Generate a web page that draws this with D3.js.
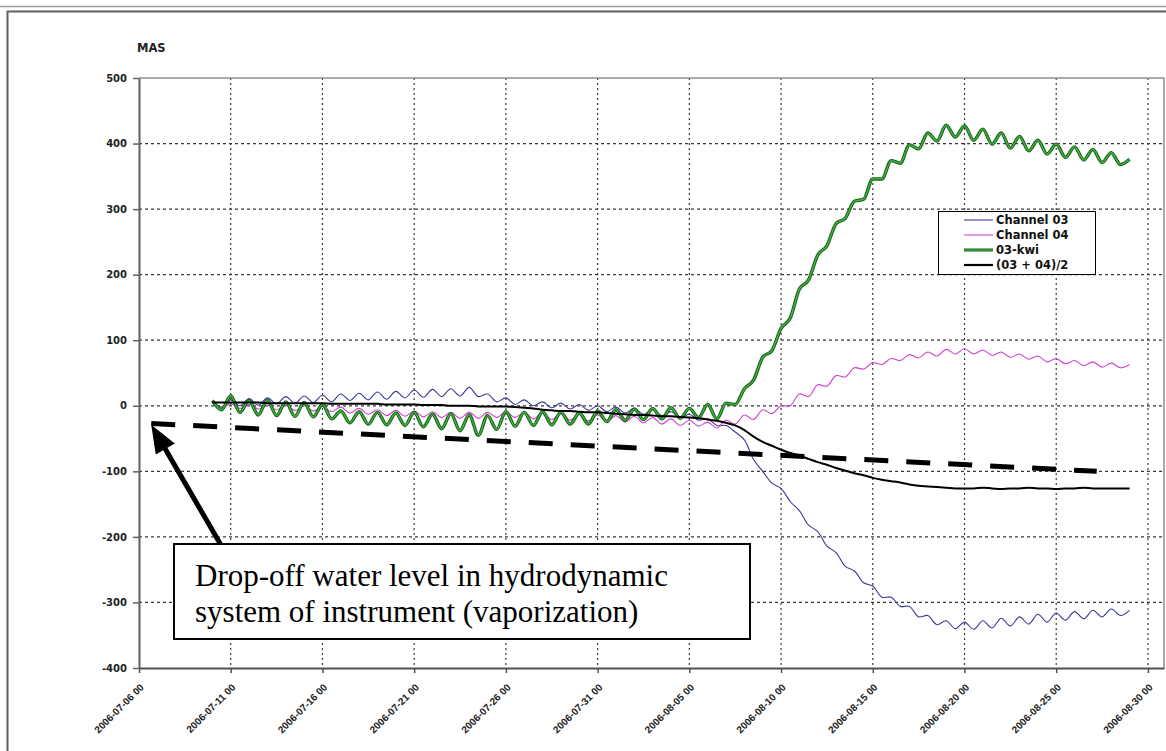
<!DOCTYPE html>
<html><head><meta charset="utf-8">
<script src="https://cdn.jsdelivr.net/npm/d3@7"></script>
<style>body{margin:0;background:#fff;overflow:hidden}</style>
</head><body>
<svg id="chart" width="1166" height="751"></svg>
<script>
// ---------- DATA ----------
const startTime = "2006-07-10 00:00";   // first sample
const stepHours = 12;                    // sampling step
const seriesNames = ["Channel 03", "Channel 04", "03-kwi", "(03 + 04)/2"];
const channel03 = [6,-2,9,0,11,1,12,3,14,4,15,5,16,6,18,8,19,9,21,10,22,12,24,13,25,14,26,15,28,14,18,6,12,2,9,0,6,-3,4,-5,2,-7,0,-9,-2,-11,-4,-13,-6,-15,-9,-18,-13,-22,-20,-30,-30,-40,-52,-82,-100,-118,-126,-146,-160,-182,-192,-214,-224,-245,-252,-270,-275,-292,-292,-306,-306,-322,-320,-334,-328,-340,-330,-341,-328,-339,-324,-336,-322,-333,-318,-330,-316,-327,-314,-325,-312,-322,-310,-320,-312];
const channel04 = [4,-3,3,-4,2,-5,1,-6,1,-7,0,-8,-1,-9,-2,-11,-4,-13,-6,-15,-7,-16,-8,-17,-9,-18,-10,-19,-10,-19,-10,-18,-9,-18,-10,-20,-11,-21,-12,-22,-13,-23,-14,-24,-15,-25,-16,-26,-18,-28,-20,-30,-22,-31,-25,-34,-22,-28,-14,-21,-6,-12,0,0,18,14,32,30,46,44,58,56,66,63,72,69,78,73,82,76,86,79,87,79,85,77,82,74,79,71,76,67,72,64,69,61,67,59,65,58,63];
const kwi03 = [8,-6,15,-10,8,-14,9,-15,6,-16,5,-17,2,-20,-8,-26,-9,-28,-10,-29,-11,-30,-10,-32,-13,-35,-12,-38,-14,-45,-15,-36,-9,-31,-10,-30,-9,-29,-10,-28,-11,-28,-8,-24,-6,-22,-5,-21,-4,-20,-3,-19,-4,-18,2,-20,4,2,26,39,74,84,118,134,178,192,230,244,278,286,312,315,346,346,374,370,398,392,416,404,428,410,427,405,422,399,416,393,411,389,405,384,399,379,395,375,391,371,386,368,376];
const average03_04 = [5,5,5,5,5,5,4,4,4,4,4,4,4,3,3,3,3,3,3,2,2,2,2,1,1,1,0,0,0,-1,-1,-1,-1,-2,-3,-4,-6,-7,-8,-8,-9,-10,-10,-11,-12,-13,-14,-14,-15,-16,-16,-17,-18,-19,-21,-23,-26,-30,-37,-47,-55,-61,-67,-72,-76,-81,-86,-90,-95,-99,-103,-106,-110,-113,-115,-117,-120,-122,-123,-124,-125,-126,-126,-126,-125,-126,-127,-126,-126,-125,-126,-126,-127,-126,-126,-125,-126,-126,-126,-126,-126];
const xTickLabels = ["2006-07-06 00","2006-07-11 00","2006-07-16 00","2006-07-21 00","2006-07-26 00","2006-07-31 00","2006-08-05 00","2006-08-10 00","2006-08-15 00","2006-08-20 00","2006-08-25 00","2006-08-30 00"];
const yTicks = [500,400,300,200,100,0,-100,-200,-300,-400];
const yLabel = "MAS";
const trendDates = ["2006-07-06 16:00","2006-08-27 05:00"];
const trendValues = [-27,-100];
const arrowFrom = ["2006-07-10 11:00", -212];
const arrowTo = ["2006-07-06 16:00", -29];
const annotationLines = ["Drop-off water level in hydrodynamic","system of instrument (vaporization)"];

// ---------- LAYOUT / STYLE ----------
const P = {left:139, right:1164, top:78, bottom:668};
const colors = ["#3a3a9a", "#d040d0", "#2f9a2f", "#000000"];
const parseT = d3.utcParse("%Y-%m-%d %H:%M");
const parseTick = d3.utcParse("%Y-%m-%d %H");
const t0 = parseT(startTime);
const times = channel03.map((_, i) => d3.utcHour.offset(t0, i * stepHours));

const svg = d3.select("#chart");
svg.append("rect").attr("width",1166).attr("height",751).attr("fill","#fff");
// outer frame
svg.append("line").attr("x1",0).attr("x2",1166).attr("y1",6.5).attr("y2",6.5).attr("stroke","#a0a0a0").attr("stroke-width",1.5);
svg.append("path").attr("d","M1170,11.5 H7.5 V760").attr("fill","none").attr("stroke","#606060").attr("stroke-width",2);

const x = d3.scaleUtc().domain([parseT("2006-07-06 00:00"), parseT("2006-08-30 21:00")]).range([P.left, P.right]);
const y = d3.scaleLinear().domain([-400, 500]).range([P.bottom, P.top]);
const tickDates = xTickLabels.map(parseTick);

// grid
const grid = svg.append("g");
grid.selectAll("line.h").data(yTicks.filter(v => v !== 500 && v !== -400)).join("line")
  .attr("x1", P.left).attr("x2", P.right).attr("y1", d => y(d)).attr("y2", d => y(d))
  .attr("stroke","#3a3a3a").attr("stroke-width",1.2).attr("stroke-dasharray","3,3");
grid.selectAll("line.v").data(tickDates.slice(1)).join("line")
  .attr("x1", d => x(d)).attr("x2", d => x(d)).attr("y1", P.top).attr("y2", P.bottom)
  .attr("stroke","#3a3a3a").attr("stroke-width",1.2).attr("stroke-dasharray","2,3");

// plot border top/right
svg.append("path").attr("d",`M${P.left},${P.top} H${P.right} V${P.bottom}`).attr("fill","none").attr("stroke","#909090").attr("stroke-width",1.5);

// axes
const xAxis = svg.append("g").attr("transform",`translate(0,${P.bottom})`)
  .call(d3.axisBottom(x).tickValues(tickDates).tickFormat(d3.utcFormat("%Y-%m-%d %H")).tickSize(5).tickSizeOuter(0));
xAxis.select(".domain").attr("stroke","#505050").attr("stroke-width",2);
xAxis.selectAll(".tick line").attr("stroke","#505050").attr("stroke-width",1.5);
xAxis.selectAll(".tick text")
  .attr("font-family","'Liberation Sans', Arial, sans-serif").attr("font-weight","bold").attr("font-size","10px").attr("fill","#222")
  .attr("text-anchor","end").attr("dy",null).attr("y",null)
  .attr("transform","translate(5,20) rotate(-45)");

const yAxis = svg.append("g").attr("transform",`translate(${P.left},0)`)
  .call(d3.axisLeft(y).tickValues(yTicks).tickFormat(d => String(d)).tickSize(6).tickSizeOuter(0).tickPadding(6));
yAxis.select(".domain").attr("stroke","#606060").attr("stroke-width",2);
yAxis.selectAll(".tick line").attr("stroke","#606060").attr("stroke-width",1.5);
yAxis.selectAll(".tick text").attr("font-family","'DejaVu Sans', Verdana, sans-serif").attr("font-weight","bold")
  .attr("font-size","10px").attr("fill","#222");

svg.append("text").attr("x",137).attr("y",52).text(yLabel)
  .attr("font-family","'DejaVu Sans', Verdana, sans-serif").attr("font-weight","bold").attr("font-size","11.5px").attr("fill","#222");

// series
const lineWavy = d3.line().x((d,i) => x(times[i])).y(d => y(d)).curve(d3.curveCatmullRom);
const lineJag = d3.line().x((d,i) => x(times[i])).y(d => y(d)).curve(d3.curveMonotoneX);
const lineSmooth = d3.line().x((d,i) => x(times[i])).y(d => y(d)).curve(d3.curveMonotoneX);
const lines = svg.append("g").attr("fill","none");
lines.append("path").attr("d", lineWavy(channel03)).attr("stroke", colors[0]).attr("stroke-width",1.1);
lines.append("path").attr("d", lineWavy(channel04)).attr("stroke", colors[1]).attr("stroke-width",1.1);
lines.append("path").attr("d", lineJag(kwi03)).attr("stroke", "#1d5e1d").attr("stroke-width",3.4).attr("stroke-linejoin","round");
lines.append("path").attr("d", lineJag(kwi03)).attr("stroke", "#3cbc3c").attr("stroke-width",1.3).attr("stroke-linejoin","round");
lines.append("path").attr("d", lineSmooth(average03_04)).attr("stroke", colors[3]).attr("stroke-width",2);

// trend dashed line
svg.append("path")
  .attr("d", d3.line()(trendDates.map((d,i) => [x(parseT(d)), y(trendValues[i])])))
  .attr("stroke","#000").attr("stroke-width",5).attr("stroke-dasharray","24,18").attr("fill","none");

// legend
const L = {x:938, y:211, w:157, h:63, rowY:[220,235,250,265], lx1:964, lx2:993, tx:996};
const lg = svg.append("g");
lg.append("rect").attr("x",L.x+0.5).attr("y",L.y+0.5).attr("width",L.w).attr("height",L.h).attr("fill","#fff").attr("stroke","#000").attr("stroke-width",1);
seriesNames.forEach((name,i) => {
  const yy = L.rowY[i];
  if (i === 2) {
    lg.append("line").attr("x1",L.lx1).attr("x2",L.lx2).attr("y1",yy).attr("y2",yy).attr("stroke","#1d5e1d").attr("stroke-width",3);
    lg.append("line").attr("x1",L.lx1).attr("x2",L.lx2).attr("y1",yy).attr("y2",yy).attr("stroke","#3cbc3c").attr("stroke-width",1.1);
  } else {
    lg.append("line").attr("x1",L.lx1).attr("x2",L.lx2).attr("y1",yy).attr("y2",yy).attr("stroke",colors[i]).attr("stroke-width", i===3 ? 2.2 : 1.1);
  }
  lg.append("text").attr("x",L.tx).attr("y",yy+4).text(name)
    .attr("font-family","'DejaVu Sans', Verdana, sans-serif").attr("font-weight","bold").attr("font-size","11.5px").attr("fill","#111");
});

// annotation arrow
const ax1 = x(parseT(arrowFrom[0])), ay1 = y(arrowFrom[1]);
const ax2 = x(parseT(arrowTo[0])), ay2 = y(arrowTo[1]);
const len = Math.hypot(ax2-ax1, ay2-ay1), ux = (ax2-ax1)/len, uy = (ay2-ay1)/len;
const headL = 28, headW = 11;
const bx = ax2 - ux*headL, by = ay2 - uy*headL;
svg.append("line").attr("x1",ax1).attr("y1",ay1).attr("x2",bx+ux*2).attr("y2",by+uy*2).attr("stroke","#000").attr("stroke-width",5);
svg.append("path").attr("d",`M${ax2},${ay2} L${bx - uy*headW},${by + ux*headW} L${bx + uy*headW},${by - ux*headW} Z`).attr("fill","#000");

// annotation box
const A = {x:174, y:544, w:576, h:95, tx:195, ty:[586,622]};
svg.append("rect").attr("x",A.x).attr("y",A.y).attr("width",A.w).attr("height",A.h).attr("fill","#fff").attr("stroke","#000").attr("stroke-width",2);
annotationLines.forEach((t,i) => {
  svg.append("text").attr("x",A.tx).attr("y",A.ty[i]).text(t)
    .attr("font-family","'Liberation Serif', 'Times New Roman', serif").attr("font-size","31px").attr("fill","#000");
});
</script>
</body></html>
